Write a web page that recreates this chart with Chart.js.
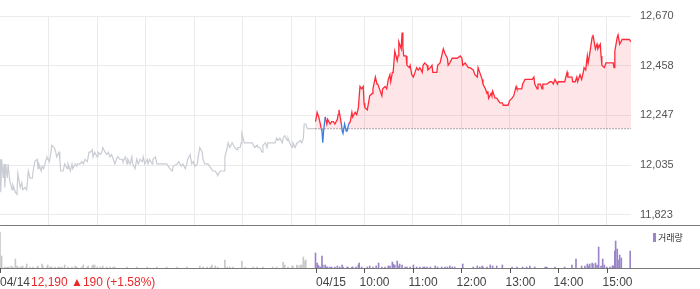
<!DOCTYPE html>
<html>
<head>
<meta charset="utf-8">
<script src="https://cdn.jsdelivr.net/npm/chart.js@4.4.1/dist/chart.umd.min.js"></script>
<style>
html, body { margin: 0; padding: 0; background: #fff; }
#wrap { position: relative; width: 700px; height: 289px; overflow: hidden; font-family: "Liberation Sans", Arial, sans-serif; }
#price { position: absolute; left: 0; top: 0; }
#vol { position: absolute; left: 0; top: 226px; }
#legend { position: absolute; left: 653px; top: 232px; font-size: 9px; line-height: 11px; color: #333; font-family: "Noto Sans CJK KR", sans-serif; }
#legend i { display: inline-block; width: 3px; height: 9px; background: #9a85c8; margin-right: 2px; vertical-align: -1px; }
#quote { position: absolute; left: 31px; top: 275px; font-size: 12px; line-height: 14px; color: #e8282b; }
</style>
</head>
<body>
<div id="wrap">
  <canvas id="price" width="700" height="226"></canvas>
  <canvas id="vol" width="700" height="63"></canvas>
  <div id="legend"><i></i>거래량</div>
  <div id="quote">12,190 ▲190 (+1.58%)</div>
</div>
<script>
// minutes from 04/14 09:00 (04/15 09:00 = 390), 13 trading hours shown
var BASE = 12190;

var gMin = [0,1,2,4,5,6,7,9,10,12,15,16,19,21,22,25,27,28,31,33,35,37,40,41,43,46,47,48,51,52,54,57,58,61,63,64,67,69,70,73,74,75,78,80,83,84,87,89,90,93,95,96,99,101,103,105,108,110,112,114,115,117,120,121,124,126,127,130,132,134,136,138,140,142,145,146,148,151,152,155,157,158,161,163,164,167,169,171,173,176,177,179,182,183,185,188,189,192,194,195,200,206,210,213,214,219,221,224,226,229,231,232,235,237,239,241,244,245,247,250,251,253,257,261,263,266,268,269,272,274,277,278,281,282,284,287,288,290,293,294,297,298,299,302,303,305,307,309,312,313,315,318,319,321,324,325,328,330,331,334,336,337,340,342,344,346,349,350,352,355,356,358,361,362,365,367,368,371,373,375,376,378,380,390];
var gPrice = [12060,11920,12060,11980,12040,11940,12040,11980,12040,11970,11930,11950,11920,11910,12000,11940,11960,11930,11940,11930,12010,11980,11980,12010,12050,12060,12020,12040,12010,12030,12020,12060,12070,12050,12090,12120,12110,12090,12070,12090,12060,12010,12010,12040,12020,12040,12010,12040,12020,12040,12030,12040,12040,12050,12040,12060,12050,12090,12090,12100,12070,12090,12070,12090,12080,12090,12110,12090,12080,12090,12070,12080,12060,12040,12070,12070,12060,12060,12050,12070,12040,12060,12040,12070,12040,12020,12060,12040,12060,12050,12070,12040,12060,12040,12060,12040,12060,12070,12040,12040,12040,12040,12020,12010,12030,12040,12050,12030,12040,12020,12040,12060,12080,12040,12050,12030,12040,12070,12110,12090,12060,12040,12040,12020,12010,12010,12000,11990,12010,12010,12010,12070,12110,12130,12110,12130,12130,12110,12100,12110,12110,12130,12170,12130,12130,12130,12130,12130,12130,12120,12110,12120,12110,12110,12090,12120,12130,12110,12130,12130,12130,12130,12130,12150,12140,12150,12130,12150,12160,12140,12150,12130,12110,12130,12110,12130,12130,12140,12130,12150,12210,12210,12190,12190];

var rMin = [390,392,394,396,397,398,399,400,402,404,405,408,410,412,414,417,418,419,422,423,424,426,428,429,431,433,435,436,439,441,443,445,447,449,450,451,454,456,457,460,461,464,466,467,470,472,473,476,478,480,482,483,485,486,488,491,492,493,496,497,498,499,502,503,506,507,509,511,513,515,517,519,522,523,525,528,529,532,534,535,538,540,541,544,546,548,550,553,554,556,559,560,565,569,571,572,575,577,579,581,585,587,590,591,593,596,597,600,602,603,604,607,608,609,612,614,616,618,621,622,627,628,630,633,635,638,639,642,645,646,649,651,658,660,661,664,665,668,670,671,674,676,680,682,684,686,689,690,695,698,701,702,705,707,708,711,713,714,717,719,721,722,724,726,727,729,732,733,736,738,739,742,743,744,747,749,750,754,758,759,760,763,764,766,769,770,775,778,780];
var rPrice = [12220,12260,12240,12210,12190,12180,12130,12180,12240,12210,12230,12210,12220,12220,12210,12230,12250,12270,12210,12180,12170,12210,12180,12180,12210,12220,12260,12240,12260,12250,12280,12370,12360,12370,12300,12280,12270,12310,12330,12340,12360,12410,12380,12380,12350,12330,12360,12370,12360,12400,12420,12390,12430,12430,12520,12480,12500,12560,12530,12600,12540,12500,12500,12460,12450,12460,12420,12410,12430,12450,12440,12450,12430,12460,12470,12460,12440,12450,12460,12430,12430,12430,12460,12470,12500,12530,12510,12490,12460,12470,12490,12490,12490,12500,12490,12460,12470,12460,12450,12450,12440,12420,12410,12450,12430,12400,12380,12360,12340,12350,12320,12340,12330,12350,12320,12320,12310,12300,12300,12290,12290,12290,12310,12320,12330,12370,12360,12360,12360,12380,12400,12400,12400,12410,12380,12360,12380,12380,12360,12380,12380,12380,12390,12390,12380,12400,12380,12390,12390,12390,12430,12410,12410,12410,12390,12390,12410,12390,12420,12400,12430,12450,12440,12500,12470,12510,12580,12590,12530,12550,12530,12550,12500,12460,12450,12470,12470,12470,12470,12450,12520,12580,12590,12550,12570,12570,12570,12570,12560];

var v1Min = [0,2,6,9,11,14,16,19,21,22,25,27,28,32,33,37,41,46,47,52,53,58,59,62,64,68,72,74,77,80,84,89,93,95,101,103,108,109,114,115,117,120,124,127,132,136,140,142,157,169,182,194,206,219,231,247,251,256,260,262,266,269,278,281,284,288,299,303,313,318,325,337,342,350,352,356,361,362,367,368,371,373,375,377,378];
var v1Vol = [36,12,1,1,1,2,1,9,2,1,1,1,2,1,4,1,1,1,2,4,2,1,3,1,1,1,1,1,1,3,1,1,2,1,1,3,1,2,2,3,3,1,1,2,1,1,1,1,1,1,1,1,1,1,1,2,1,1,1,3,2,1,8,1,1,1,7,1,1,1,1,1,1,6,3,1,2,2,3,2,3,3,11,7,8];

var v2Min = [390,392,393,394,396,398,399,402,404,405,408,410,414,417,420,423,424,429,430,435,436,440,443,444,447,454,457,461,465,468,472,476,480,482,485,486,488,491,492,494,497,501,503,507,511,515,519,523,525,528,532,538,541,546,550,553,556,559,562,572,585,590,593,596,597,602,606,609,614,621,633,639,646,651,655,661,674,676,686,698,707,712,719,723,726,727,729,732,733,736,738,740,743,745,747,750,754,757,758,759,760,761,763,764,766,768,779];
var v2Vol = [15,5,3,2,1,12,3,3,1,1,1,1,1,2,1,3,1,1,1,1,1,1,3,5,1,1,2,1,2,5,1,1,2,2,6,4,3,7,2,4,3,1,1,1,3,1,1,1,1,1,1,2,1,1,1,1,2,1,1,4,1,2,1,2,1,1,3,2,2,3,1,1,1,1,2,1,1,1,1,1,3,9,2,2,4,2,4,5,4,5,3,21,2,9,3,1,1,2,2,2,17,27,19,8,13,10,17];

var gridMinutes = [60,120,180,240,300,360,390,450,510,570,630,690,750];
var yTicks = [11823, 12035, 12247, 12458, 12670];
var tickMinutes = [0, 390, 450, 510, 570, 630, 690, 750];
var tickLabels = ['04/14', '04/15', '10:00', '11:00', '12:00', '13:00', '14:00', '15:00'];

function pts(xs, ys) {
  return xs.map(function (x, i) { return { x: x, y: ys[i] }; });
}
function noPad(s) {
  s.paddingTop = 0; s.paddingBottom = 0; s.paddingLeft = 0; s.paddingRight = 0;
}

var RED = '#ff2b3a';
var BLUE = '#3d7fe0';

var priceLinePlugin = {
  id: 'priceLine',
  afterDraw: function (chart) {
    var ctx = chart.ctx, b = chart.chartArea.bottom;
    ctx.save();
    ctx.strokeStyle = '#7a7a7a';
    ctx.lineWidth = 1;
    ctx.beginPath();
    ctx.moveTo(0, b + 0.5);
    ctx.lineTo(chart.width, b + 0.5);
    ctx.stroke();
    ctx.restore();
  }
};

new Chart(document.getElementById('price').getContext('2d'), {
  type: 'line',
  data: {
    datasets: [
      {
        data: pts(rMin, rPrice),
        borderColor: RED,
        borderWidth: 1.3,
        pointRadius: 0,
        fill: { value: BASE, above: 'rgba(248,80,95,0.14)', below: 'rgba(0,0,0,0)' },
        segment: {
          borderColor: function (c) {
            return (c.p0.parsed.y < BASE || c.p1.parsed.y < BASE) ? BLUE : RED;
          }
        }
      },
      {
        data: [{ x: 390, y: BASE }, { x: 780, y: BASE }],
        borderColor: '#555',
        borderWidth: 1,
        borderDash: [1, 2],
        pointRadius: 0,
        fill: false
      },
      {
        data: pts(gMin, gPrice),
        borderColor: '#c9ccd3',
        borderWidth: 1.2,
        pointRadius: 0,
        fill: false
      }
    ]
  },
  options: {
    responsive: false,
    animation: false,
    devicePixelRatio: 1,
    layout: { padding: { top: 16, bottom: 1, left: 0, right: 0 } },
    plugins: { legend: { display: false }, tooltip: { enabled: false } },
    scales: {
      x: {
        type: 'linear', min: 0, max: 780,
        afterBuildTicks: function (s) { s.ticks = gridMinutes.map(function (v) { return { value: v }; }); },
        afterFit: function (s) { s.height = 0; noPad(s); },
        ticks: { display: false },
        grid: { color: '#ebebeb', drawTicks: false },
        border: { display: false }
      },
      y: {
        position: 'right',
        min: 11780, max: 12670,
        afterBuildTicks: function (s) { s.ticks = yTicks.map(function (v) { return { value: v }; }); },
        afterFit: function (s) { s.width = 69; noPad(s); },
        ticks: {
          padding: 9,
          color: '#555',
          font: { size: 11, family: '"Liberation Sans", Arial, sans-serif' },
          callback: function (v) { return Number(v).toLocaleString('en-US'); }
        },
        grid: { color: '#ebebeb', drawTicks: false },
        border: { display: false }
      }
    }
  },
  plugins: [priceLinePlugin]
});

var volAxisPlugin = {
  id: 'volAxis',
  afterDraw: function (chart) {
    var ctx = chart.ctx, x = chart.scales.x, b = chart.chartArea.bottom;
    ctx.save();
    ctx.strokeStyle = '#7a7a7a';
    ctx.lineWidth = 1;
    ctx.beginPath();
    ctx.moveTo(0, b + 0.5);
    ctx.lineTo(chart.width, b + 0.5);
    ctx.stroke();
    ctx.strokeStyle = '#555';
    ctx.font = '12px "Liberation Sans", Arial, sans-serif';
    ctx.fillStyle = '#444';
    ctx.textBaseline = 'middle';
    ctx.textAlign = 'left';
    tickMinutes.forEach(function (m, i) {
      var px = Math.round(x.getPixelForValue(m)) + 0.5;
      ctx.beginPath();
      ctx.moveTo(px, b);
      ctx.lineTo(px, b + 5);
      ctx.stroke();
      var lx = tickLabels[i].indexOf('/') > 0 ? px - 0.5 : px - 5;
      ctx.fillText(tickLabels[i], lx, b + 14.5);
    });
    ctx.restore();
  }
};

new Chart(document.getElementById('vol').getContext('2d'), {
  type: 'bar',
  data: {
    datasets: [
      { data: pts(v1Min, v1Vol), backgroundColor: '#c8c8c8', barThickness: 1 },
      { data: pts(v2Min, v2Vol), backgroundColor: '#9a85c8', barThickness: 1 }
    ]
  },
  options: {
    responsive: false,
    animation: false,
    devicePixelRatio: 1,
    layout: { padding: { top: 0, bottom: 21, left: 0, right: 69 } },
    plugins: { legend: { display: false }, tooltip: { enabled: false } },
    scales: {
      x: { type: 'linear', min: 0, max: 780, offset: false, display: false, stacked: true },
      y: { min: 0, max: 42, display: false, stacked: false }
    }
  },
  plugins: [volAxisPlugin]
});
</script>
</body>
</html>
